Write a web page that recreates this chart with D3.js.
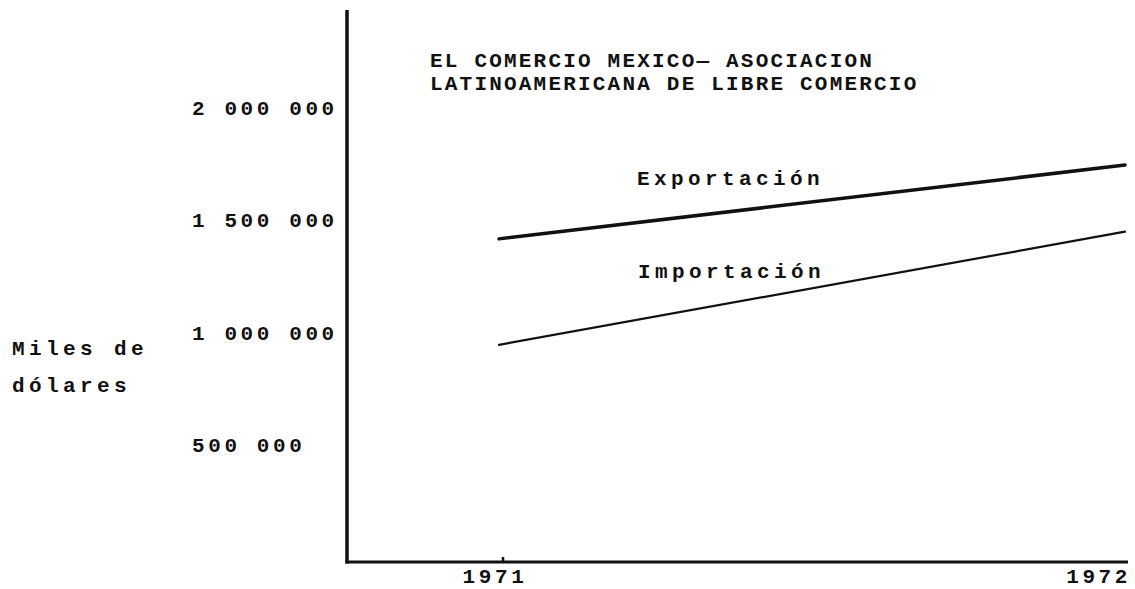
<!DOCTYPE html>
<html>
<head>
<meta charset="utf-8">
<script src="https://cdn.jsdelivr.net/npm/d3@7"></script>
<style>
  body { margin: 0; background: #fff; }
  text { font-family: "Liberation Mono", "DejaVu Sans Mono", monospace; fill: #111; font-weight: bold; }
</style>
</head>
<body>
<script>
"use strict";
// values (miles de dolares)
const years = [1971, 1972]
const exportacion = [1417000, 1746000]
const importacion = [945000, 1449000]
const yTicks = [2000000, 1500000, 1000000, 500000]
const yTickLabels = ["2 000 000", "1 500 000", "1 000 000", "500 000"]
const titleLines = ["EL COMERCIO MEXICO\u2014 ASOCIACION", "LATINOAMERICANA DE LIBRE COMERCIO"]
const unitLines = ["Miles de", "d\u00f3lares"]

const measurements = {
    width: 1135,
    height: 589,
    axisX: 347,
    axisTop: 10,
    axisBottom: 562,
    axisRight: 1128
}

const svg = d3.select("body").append("svg")
    .attr("width", measurements.width)
    .attr("height", measurements.height)

const scaleX = d3.scaleLinear()
    .domain([1971, 1972])
    .range([499, 1125])

const scaleY = d3.scaleLinear()
    .domain([0, 2000000])
    .range([557, 108])

// axes, drawn like the typed original: plain heavy lines
svg.append("line")
    .attr("x1", measurements.axisX).attr("x2", measurements.axisX)
    .attr("y1", measurements.axisTop).attr("y2", measurements.axisBottom + 1.5)
    .attr("stroke", "#111").attr("stroke-width", 3.5)

svg.append("line")
    .attr("x1", measurements.axisX - 1.5).attr("x2", measurements.axisRight)
    .attr("y1", measurements.axisBottom).attr("y2", measurements.axisBottom)
    .attr("stroke", "#111").attr("stroke-width", 3)

// small tick on 1971
svg.append("line")
    .attr("x1", scaleX(1971) + 4).attr("x2", scaleX(1971) + 4)
    .attr("y1", measurements.axisBottom).attr("y2", measurements.axisBottom - 5)
    .attr("stroke", "#111").attr("stroke-width", 2.5)

// y tick labels, typed left-aligned in one column
svg.selectAll(".ytick")
    .data(yTicks)
    .enter()
    .append("text")
        .attr("class", "ytick")
        .attr("x", 192)
        .attr("y", d => scaleY(d) + 7)
        .attr("font-size", 21)
        .attr("letter-spacing", 3.6)
        .text((d, i) => yTickLabels[i])

// x tick labels
svg.append("text")
    .attr("x", scaleX(1971) - 4)
    .attr("y", 583)
    .attr("text-anchor", "middle")
    .attr("font-size", 21)
    .attr("letter-spacing", 3.6)
    .text(String(years[0]))

svg.append("text")
    .attr("x", scaleX(1972) + 6)
    .attr("y", 583)
    .attr("text-anchor", "end")
    .attr("font-size", 21)
    .attr("letter-spacing", 3.6)
    .text(String(years[1]))

// unit label
svg.selectAll(".unit")
    .data(unitLines)
    .enter()
    .append("text")
        .attr("class", "unit")
        .attr("x", 12)
        .attr("y", (d, i) => 355 + i * 37)
        .attr("font-size", 21)
        .attr("letter-spacing", 4.4)
        .text(d => d)

// title
svg.selectAll(".title")
    .data(titleLines)
    .enter()
    .append("text")
        .attr("class", "title")
        .attr("x", 430)
        .attr("y", (d, i) => 67 + i * 23)
        .attr("font-size", 21)
        .attr("letter-spacing", 2.2)
        .text(d => d)

// series lines
const line = d3.line()
    .x((d, i) => scaleX(years[i]))
    .y(d => scaleY(d))

svg.append("path")
    .datum(exportacion)
    .attr("d", line)
    .attr("fill", "none")
    .attr("stroke", "#111")
    .attr("stroke-width", 3.5)
    .attr("stroke-linecap", "round")

svg.append("path")
    .datum(importacion)
    .attr("d", line)
    .attr("fill", "none")
    .attr("stroke", "#111")
    .attr("stroke-width", 2.2)
    .attr("stroke-linecap", "round")

// series labels
svg.append("text")
    .attr("x", 637)
    .attr("y", 185)
    .attr("font-size", 21)
    .attr("letter-spacing", 4.4)
    .text("Exportaci\u00f3n")

svg.append("text")
    .attr("x", 638)
    .attr("y", 278)
    .attr("font-size", 21)
    .attr("letter-spacing", 4.4)
    .text("Importaci\u00f3n")
</script>
</body>
</html>
